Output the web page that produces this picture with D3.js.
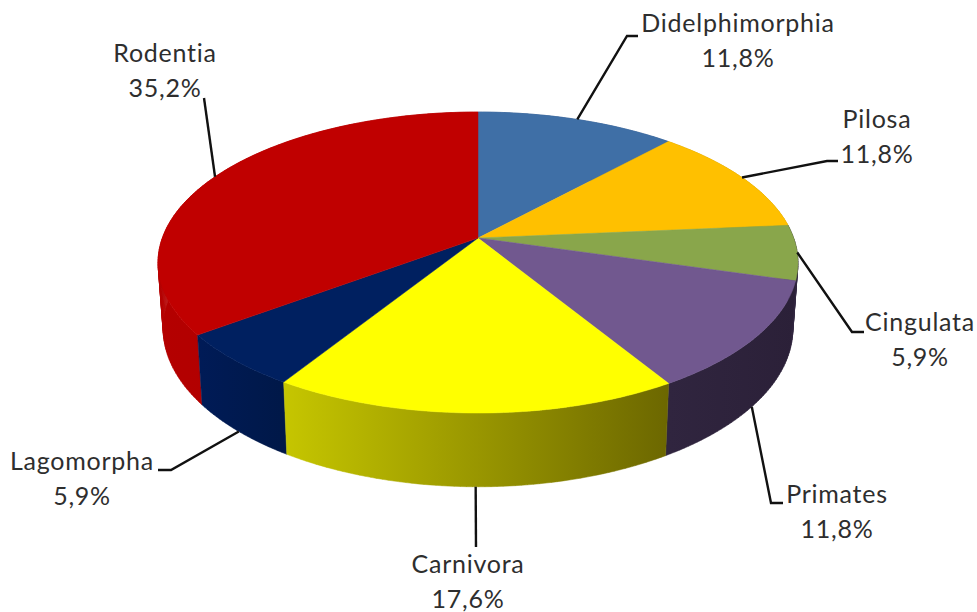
<!DOCTYPE html>
<html>
<head>
<meta charset="utf-8">
<script src="https://cdnjs.cloudflare.com/ajax/libs/d3/7.8.5/d3.min.js"></script>
<style>
  html, body { margin: 0; padding: 0; background: #fff; }
  svg { display: block; }
  .label { font-family: Lato, "Open Sans", sans-serif; font-size: 25px; letter-spacing: 0.75px; fill: #2e2e2e; text-anchor: middle; }
</style>
</head>
<body>
<div id="chart"></div>
<script>
// values
const orders = ["Didelphimorphia", "Pilosa", "Cingulata", "Primates", "Carnivora", "Lagomorpha", "Rodentia"];
const shares = [11.8, 11.8, 5.9, 11.8, 17.6, 5.9, 35.2];

// colours, same order as above
const topColors = ["#3f6fa6", "#ffc000", "#89a64b", "#71588f", "#ffff00", "#002060", "#c00000"];
// Cingulata's wall is only a sliver at the edge and reads as the dark Primates wall
const sideLeft = ["#33598a", "#c89700", "#30253f", "#30253f", "#c6c600", "#001b57", "#b40000"];
const sideRight = ["#33598a", "#c89700", "#30253f", "#2b2038", "#6c6700", "#001848", "#a80000"];

// label layout: centre x, first baseline, then the leader's elbow and end
const labelX = [738, 877, 920, 837, 468, 82, 165];
const labelY = [32, 128, 331, 503, 573, 470, 62];
const lineGap = 35;
const leaderMid = [[627, 36], [827, 161], [852, 332], [771, 503], [476, 547], [171, 470], [204, 98]];
const leaderEnd = [[638, 36], [838, 161], [864, 332], [783, 503], [476, 547], [158, 470], [204, 98]];
const leaderFromBottom = [false, false, false, true, true, true, false];

const width = 977;
const height = 612;

// the pie is drawn in perspective, so the front half looks bigger than the back
const cx = 478;
const cy = 238;
const rx = 315.7;
const ry = 146.5;
const persp = 0.163;

const project = angle => {
    const u = Math.sin(angle);
    const v = Math.cos(angle) * -1;
    const w = 1 - persp * v;
    return [cx + rx * u / w, cy + ry * v / w];
};
// same point on the lower rim of the disc
const lower = ([x, y]) => [cx + (x - cx) * 0.984, cy + (y - cy) * 1.05 + 65];

const pie = d3.pie().sort(null).startAngle(0).endAngle(2 * Math.PI);
const slices = pie(shares).map((d, i) => Object.assign(d, { index: i, mid: (d.startAngle + d.endAngle) / 2 }));

const arcPoints = d => {
    const n = Math.ceil((d.endAngle - d.startAngle) * 60);
    return d3.range(n + 1).map(k => project(d.startAngle + (d.endAngle - d.startAngle) * k / n));
};

const line = d3.line();

const svg = d3.select("#chart").append("svg")
    .attr("width", width)
    .attr("height", height);

const defs = svg.append("defs");

// side walls first, the ones at the back before the ones at the front
const sideOrder = slices.slice().sort((a, b) => project(a.mid)[1] - project(b.mid)[1]);

sideOrder.forEach(d => {
    const top = arcPoints(d);
    const [x0, x1] = d3.extent(top, p => p[0]);
    const grad = defs.append("linearGradient")
        .attr("id", "side" + d.index)
        .attr("gradientUnits", "userSpaceOnUse")
        .attr("x1", x0).attr("x2", x1).attr("y1", 0).attr("y2", 0);
    grad.append("stop").attr("offset", 0).attr("stop-color", sideLeft[d.index]);
    grad.append("stop").attr("offset", 1).attr("stop-color", sideRight[d.index]);

    // one small quad per step, a single outline left a dent at the widest point
    const quads = d3.pairs(top).map(([a, b]) => line([a, b, lower(b), lower(a)]) + "Z").join("");

    svg.append("path")
        .attr("d", quads)
        .attr("fill", "url(#side" + d.index + ")")
        .attr("stroke", "url(#side" + d.index + ")")
        .attr("stroke-width", 0.5);
});

// top faces
svg.selectAll(".slice")
    .data(slices)
    .enter()
    .append("path")
    .attr("class", "slice")
    .attr("d", d => line([[cx, cy]].concat(arcPoints(d))) + "Z")
    .attr("fill", d => topColors[d.index])
    .attr("stroke", d => topColors[d.index])
    .attr("stroke-width", 0.5);

// leader lines start at the middle of each slice's rim
svg.selectAll(".leader")
    .data(slices)
    .enter()
    .append("path")
    .attr("class", "leader")
    .attr("fill", "none")
    .attr("stroke", "#111")
    .attr("stroke-width", 2.4)
    .attr("d", d => {
        const rim = project(d.mid);
        const start = leaderFromBottom[d.index] ? lower(rim) : rim;
        return line([start, leaderMid[d.index], leaderEnd[d.index]]);
    });

const labels = svg.selectAll(".label")
    .data(slices)
    .enter()
    .append("text")
    .attr("class", "label");

labels.append("tspan")
    .attr("x", d => labelX[d.index])
    .attr("y", d => labelY[d.index])
    .text(d => orders[d.index]);

labels.append("tspan")
    .attr("x", d => labelX[d.index])
    .attr("y", d => labelY[d.index] + lineGap)
    .text(d => d.value.toFixed(1).replace(".", ",") + "%");
</script>
</body>
</html>
